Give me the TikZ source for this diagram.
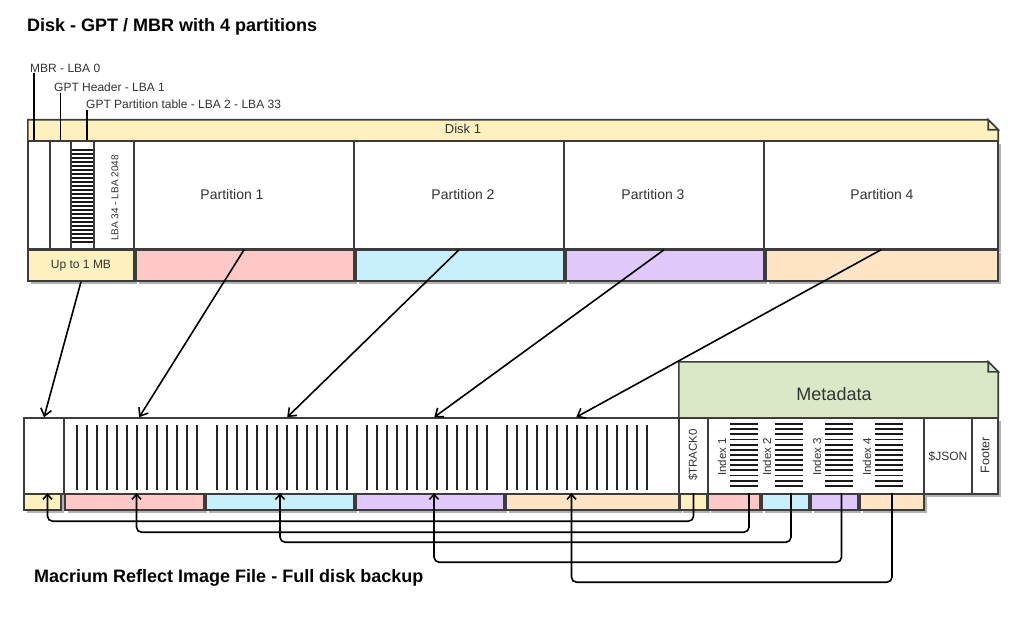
\documentclass[tikz,border=0pt]{standalone}
\usepackage{fontspec}
\setmainfont{Liberation Sans}
\usetikzlibrary{arrows.meta, shadows}

\definecolor{ink}{HTML}{333333}
\definecolor{edge}{HTML}{3C3C3C}
\definecolor{diskyellow}{HTML}{FFF0C0}
\definecolor{partred}{HTML}{FFC8C8}
\definecolor{partblue}{HTML}{C8F0FC}
\definecolor{partviolet}{HTML}{E0C8FA}
\definecolor{partorange}{HTML}{FFE4C6}
\definecolor{metagreen}{HTML}{DAE8C8}

\tikzset{
  cell/.style={draw=edge, line width=1.6pt, fill=white, inner sep=0pt,
    drop shadow={shadow xshift=3pt, shadow yshift=-3pt, opacity=0.3, fill=black}},
  band/.style={cell, fill=#1},
  size/.style 2 args={minimum width=#1pt, minimum height=#2pt},
  lbl/.style={font=\fontsize{14}{16}\selectfont, text=ink, inner sep=1pt},
  small/.style={font=\fontsize{12}{14}\selectfont, text=ink, inner sep=1pt},
  side/.style={font=\fontsize{11.5}{13}\selectfont, text=ink, inner sep=1pt, rotate=90},
  heading/.style={font=\fontsize{18}{21}\selectfont\bfseries, text=black, anchor=west, inner sep=0pt},
  bar/.style={line width=2.2pt, draw=black!85},
  hbar/.style={line width=1.8pt, draw=black!90},
  pinline/.style={line width=1.6pt, draw=black},
  noteline/.style={draw=edge, line width=1.6pt},
  copyto/.style={line width=1.6pt, -{Straight Barb[length=7pt, width=11pt]}},
  backto/.style={line width=1.6pt, rounded corners=5pt, -{Straight Barb[length=5pt, width=9pt]}},
}

\begin{document}
\begin{tikzpicture}[x=1pt, y=-1pt]
\useasboundingbox (0,0) rectangle (1017,620);

\node[heading] (ttldisk) at (27,27) {Disk - GPT / MBR with 4 partitions};

% disk header (note)
\node[size={970}{21}, inner sep=0pt] (hdr) at (513,130.5) {};
\draw[noteline, fill=diskyellow] (hdr.south west) -- (hdr.north west) -- ([xshift=-10pt]hdr.north east)
  -- ([yshift=-10pt]hdr.north east) -- (hdr.south east) -- cycle;
\draw[noteline, fill=diskyellow] ([xshift=-10pt]hdr.north east) |- ([yshift=-10pt]hdr.north east) -- cycle;
\node[lbl, font=\fontsize{13}{15}\selectfont] (hdrlbl) at (463,129) {Disk 1};

% disk layout
\node[cell, size={22}{108}] (mbr) at (39,195) {};
\node[cell, size={21}{108}] (gpth) at (60.5,195) {};
\node[cell, size={23}{108}] (gptt) at (82.5,195) {};
\foreach \k in {0,...,23}
  \draw[hbar] (72,150+4*\k) -- (93.5,150+4*\k);
\node[cell, size={40}{108}] (lba) at (114,195) {};
\node[side, font=\fontsize{10}{12}\selectfont] (lbalbl) at (115,198) {LBA 34 - LBA 2048};
\node[cell, size={220}{108}] (p1) at (244,195) {};
\node[cell, size={210}{108}] (p2) at (459,195) {};
\node[cell, size={200}{108}] (p3) at (664,195) {};
\node[cell, size={234}{108}] (p4) at (881,195) {};
\node[lbl] (p1lbl) at (232,194) {Partition 1};
\node[lbl] (p2lbl) at (463,194) {Partition 2};
\node[lbl] (p3lbl) at (653,194) {Partition 3};
\node[lbl] (p4lbl) at (882,194) {Partition 4};

\node[band=diskyellow, size={106}{31}, small] (upto) at (81,265.5) {Up to 1 MB};
\node[band=partred, size={218}{31}] (s1) at (245,265.5) {};
\node[band=partblue, size={208}{31}] (s2) at (460,265.5) {};
\node[band=partviolet, size={198}{31}] (s3) at (665,265.5) {};
\node[band=partorange, size={232}{31}] (s4) at (882,265.5) {};

% sector labels
\node[small, anchor=west] (lmbr) at (29,68) {MBR - LBA 0};
\node[small, anchor=west] (lgpth) at (53,87) {GPT Header - LBA 1};
\node[small, anchor=west] (lgptt) at (85,104) {GPT Partition table - LBA 2 - LBA 33};
\draw[pinline] ([xshift=-5pt]mbr.north) -- ([xshift=-5pt]mbr.north |- lmbr.south);
\draw[pinline] (gpth.north) -- (gpth.north |- lgpth.south);
\draw[pinline] ([xshift=4.5pt]gptt.north) -- ([xshift=4.5pt]gptt.north |- lgptt.south);

% image file metadata (note)
\node[size={319}{56}, inner sep=0pt] (meta) at (838.5,390) {};
\draw[noteline, fill=metagreen] (meta.south west) -- (meta.north west) -- ([xshift=-10pt]meta.north east)
  -- ([yshift=-10pt]meta.north east) -- (meta.south east) -- cycle;
\draw[noteline, fill=metagreen] ([xshift=-10pt]meta.north east) |- ([yshift=-10pt]meta.north east) -- cycle;
\node[font=\fontsize{18}{21}\selectfont, text=ink] (metalbl) at (834,394) {Metadata};

% image file layout
\node[cell, size={40}{76}] (img0) at (44,456) {};
\node[cell, size={615}{76}] (data) at (371.5,456) {};
\foreach \a/\n in {77/12,217/13,367/12,507/14}
  \foreach \k in {0,...,\n}
    \draw[bar] (\a+10*\k,425) -- (\a+10*\k,490);
\node[cell, size={29}{76}] (track) at (693.5,456) {};
\node[side] (tracklbl) at (693,455) {\$TRACK0};
\node[cell, size={216}{76}] (idx) at (816,456) {};
\foreach \a in {730,775,825,875}
  \foreach \k in {0,...,12}
    \draw[hbar] (\a,424+5.15*\k) -- (\a+28,424+5.15*\k);
\node[side] (ix1lbl) at (722,457) {Index 1};
\node[side] (ix2lbl) at (767,457) {Index 2};
\node[side] (ix3lbl) at (817,457) {Index 3};
\node[side] (ix4lbl) at (867,457) {Index 4};
\node[cell, size={48}{76}, small] (json) at (948,456) {\$JSON};
\node[cell, size={26}{76}] (foot) at (985,456) {};
\node[side, font=\fontsize{12.5}{14}\selectfont] (footlbl) at (985,455) {Footer};

\node[band=diskyellow, size={37}{16}] (b0) at (42.5,502) {};
\node[band=partred, size={139}{16}] (b1) at (134.5,502) {};
\node[band=partblue, size={148}{16}] (b2) at (280,502) {};
\node[band=partviolet, size={148}{16}] (b3) at (430,502) {};
\node[band=partorange, size={173}{16}] (b4) at (592.5,502) {};
\node[band=diskyellow, size={27}{16}] (t0) at (693.5,502) {};
\node[band=partred, size={52}{16}] (i1) at (734,502) {};
\node[band=partblue, size={47}{16}] (i2) at (785.5,502) {};
\node[band=partviolet, size={47}{16}] (i3) at (834.5,502) {};
\node[band=partorange, size={64}{16}] (i4) at (892,502) {};

% disk -> image
\draw[copyto] (upto.south) -- (img0.north);
\draw[copyto] (p1.south) -- ([xshift=76pt]data.north west);
\draw[copyto] (p2.south) -- ([xshift=224pt]data.north west);
\draw[copyto] (p3.south) -- ([xshift=371pt]data.north west);
\draw[copyto] (p4.south) -- ([xshift=513pt]data.north west);

% index -> data
\draw[backto] (t0.north) -- ++(0,28) -| ([xshift=5pt]b0.north);
\draw[backto] ([xshift=15pt]i1.north) -- ++(0,39) -| ([xshift=2pt]b1.north);
\draw[backto] ([xshift=5.5pt]i2.north) -- ++(0,49) -| (b2.north);
\draw[backto] ([xshift=7pt]i3.north) -- ++(0,69) -| ([xshift=4pt]b3.north);
\draw[backto] (i4.north) -- ++(0,89) -| ([xshift=-21pt]b4.north);

\node[heading] (ttlimg) at (34,578) {Macrium Reflect Image File - Full disk backup};
\end{tikzpicture}
\end{document}
